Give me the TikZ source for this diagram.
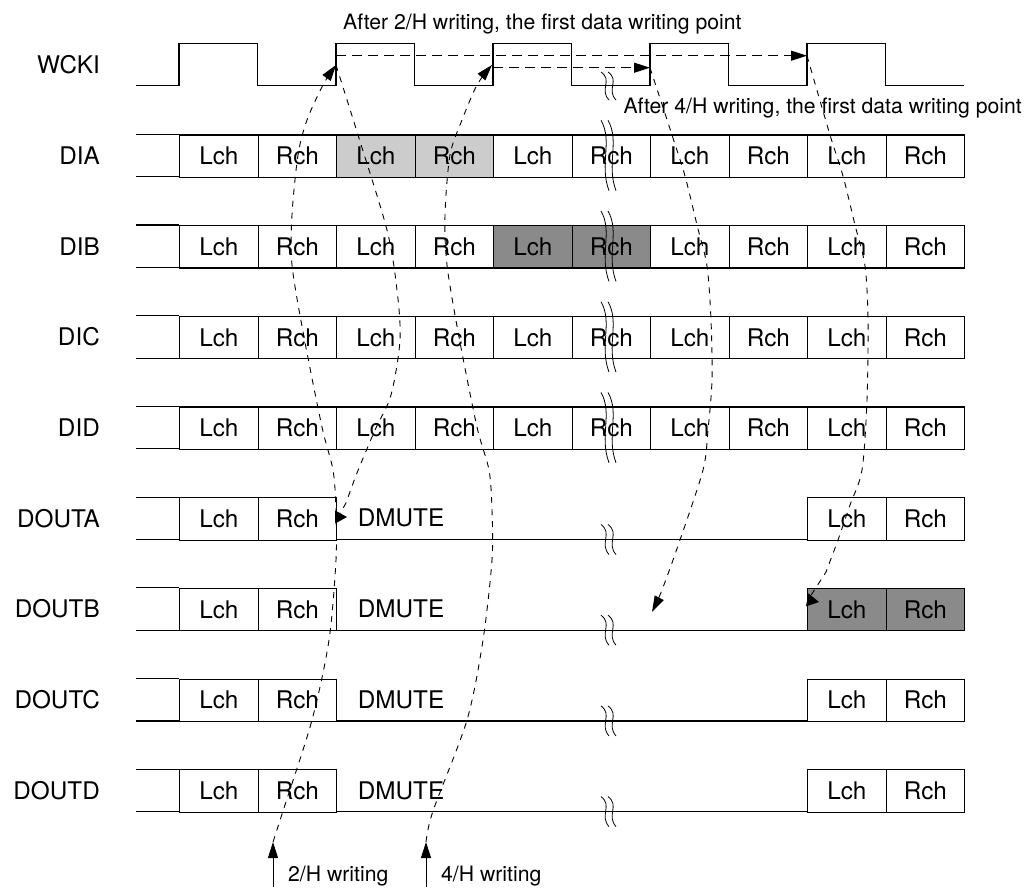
\documentclass[tikz,border=0pt]{standalone}
\usepackage{fontspec}
\setmainfont{TeX Gyre Heros}
\usetikzlibrary{arrows.meta}
\definecolor{lightg}{gray}{0.8}
\definecolor{darkg}{gray}{0.54}
\expandafter\def\csname fcA3\endcsname{lightg}
\expandafter\def\csname fcA4\endcsname{lightg}
\expandafter\def\csname fcB5\endcsname{darkg}
\expandafter\def\csname fcB6\endcsname{darkg}
\expandafter\def\csname fcOB9\endcsname{darkg}
\expandafter\def\csname fcOB10\endcsname{darkg}
\newcommand\brkmark[3]{%
  \pgfmathsetmacro\brkh{(#3)-(#2)}%
  \foreach \dx in {0,7}{%
    \draw[brkline] (#1-6+\dx,#2) .. controls (#1+6+\dx,#2+0.3*\brkh) and (#1-8+\dx,#2+0.62*\brkh) .. (#1+2+\dx,#3);
  }}
\begin{document}
\begin{tikzpicture}[x=1pt,y=-1pt,
  sig/.style={line width=1.5pt},
  boxline/.style={line width=1.2pt},
  cell/.style={draw,line width=1.2pt,anchor=north west,minimum width=78.5pt,minimum height=42.4pt,inner sep=0pt,font=\fontsize{24.3}{29}\selectfont},
  rowlabel/.style={anchor=east,inner sep=0pt,font=\fontsize{24.3}{29}\selectfont},
  dmute/.style={anchor=west,inner sep=0pt,font=\fontsize{24.3}{29}\selectfont},
  annot/.style={anchor=base west,inner sep=0pt,font=\fontsize{21.2}{25}\selectfont},
  brkline/.style={line width=0.8pt},
  dcurve/.style={line width=0.9pt,dash pattern=on 6pt off 6pt},
  hdash/.style={line width=1.2pt,dash pattern=on 10pt off 6pt},
  tip/.style={-{Triangle[length=16pt,width=10pt]}},
  tipR/.style={-{Triangle[length=12pt,width=13pt]}}
]
\useasboundingbox (0,0) rectangle (1029,887);

% WCKI
\node[rowlabel] (labW) at (100,64.5) {WCKI};
\draw[sig] (136,85.7) -| (179,43.3) -| (257.5,85.7) -| (336,43.3) -| (414.5,85.7) -| (493,43.3) -| (571.5,85.7) -| (650,43.3) -| (728.5,85.7) -| (807,43.3) -| (885.5,85.7) -- (964,85.7);
\brkmark{607}{72}{100}

% input rows
\foreach \r/\lab/\ty in {A/DIA/134.3,B/DIB/225,C/DIC/315.7,D/DID/406.4}{
  \node[rowlabel] (lab\r) at (100,\ty+21.2) {\lab};
  \draw[boxline] (136,\ty) -- (179,\ty) (136,\ty+42.4) -- (179,\ty+42.4);
  \foreach \cc in {1,...,10}{
    \pgfmathsetmacro\cx{179+(\cc-1)*78.5}
    \ifodd\cc \def\ct{Lch}\else\def\ct{Rch}\fi
    \ifcsname fc\r\cc\endcsname \edef\fc{\csname fc\r\cc\endcsname}\else\def\fc{white}\fi
    \node[cell,fill=\fc] (\r\cc) at (\cx,\ty) {\ct};
  }
  \brkmark{607}{\ty-14}{\ty+56.4}
}

% output rows
\foreach \r/\lab/\ty in {OA/DOUTA/497.1,OB/DOUTB/587.8,OC/DOUTC/678.5,OD/DOUTD/769.2}{
  \node[rowlabel] (lab\r) at (100,\ty+21.2) {\lab};
  \draw[boxline] (136,\ty) -- (179,\ty) (136,\ty+42.4) -- (964,\ty+42.4);
  \foreach \cc/\cx/\ct in {1/179/Lch,2/257.5/Rch,9/807/Lch,10/885.5/Rch}{
    \ifcsname fc\r\cc\endcsname \edef\fc{\csname fc\r\cc\endcsname}\else\def\fc{white}\fi
    \node[cell,fill=\fc] (\r\cc) at (\cx,\ty) {\ct};
  }
  \node[dmute] (\r m) at (357.7,\ty+21.2) {DMUTE};
  \brkmark{607}{\ty+27.4}{\ty+57.4}
}

% annotations
\node[annot] (ann2) at (343,29.3) {After 2/H writing, the first data writing point};
\node[annot] (ann4) at (623.3,113) {After 4/H writing, the first data writing point};
\node[annot] (lb2) at (288,881.7) {2/H writing};
\node[annot] (lb4) at (441,881.7) {4/H writing};

% key points
\coordinate (W1) at (336,65);
\coordinate (W2) at (492,65);
\coordinate (W1h) at (336,55.7);
\coordinate (W2h) at (492.7,67.7);
\coordinate (P4) at (650,67.7);
\coordinate (P5) at (807,55.7);
\coordinate (B2) at (273,842);
\coordinate (B4) at (426,842);
\coordinate (B2f) at (273,887);
\coordinate (B4f) at (426,887);
\coordinate (DA) at (347,517);
\coordinate (DB1) at (652,612);
\coordinate (DB2) at (819,602);

% write arrows
\draw[line width=1pt,tip] (B2f) -- (B2);
\draw[line width=1pt,tip] (B4f) -- (B4);

% horizontal dashed arrows
\draw[hdash,tip] (W1h) -- (P5);
\draw[hdash,tip] (W2h) -- (P4);

% curves
\draw[dcurve,tip] plot[smooth] coordinates {(B2) (283,811) (312,720) (329,640) (336,560) (336,510) (333,470) (322,427) (304,337) (292,265) (292,215) (298,155) (307,120) (323,85) (W1)};
\draw[dcurve,tip] plot[smooth] coordinates {(B4) (433,811) (467,720) (483,640) (492,560) (492,510) (489,470) (477,427) (459,337) (447,265) (445,215) (450,155) (462,120) (477,85) (W2)};
\draw[dcurve,tipR] plot[smooth] coordinates {(W1) (358,135) (387,230) (397,290) (400,340) (391,395) (375,430) (357,473) (346,503)} .. controls (338,517) .. (DA);
\draw[dcurve,tip] plot[smooth] coordinates {(P4) (672,135) (685,176) (697,225) (707,266) (711,320) (712,380) (708,430) (703,470) (680,540) (662,590) (DB1)};
\draw[dcurve,tipR] plot[smooth] coordinates {(P5) (830,135) (843,176) (855,225) (865,266) (868,320) (867,400) (862,470) (850,505) (838,540) (826,572)} .. controls (808,600) .. (DB2);
\end{tikzpicture}
\end{document}
